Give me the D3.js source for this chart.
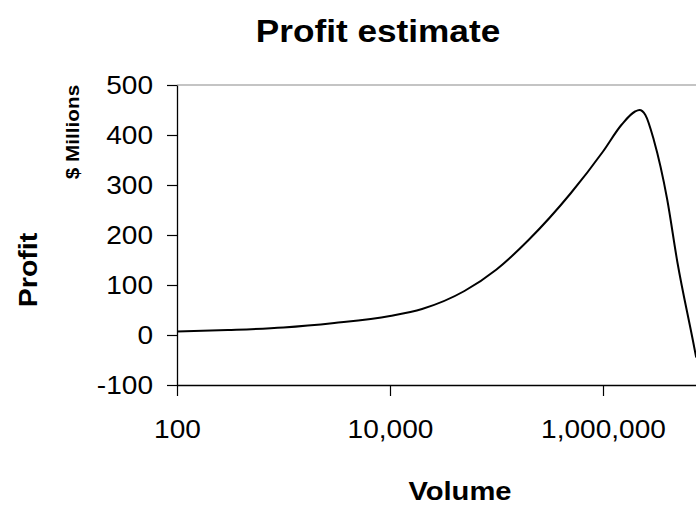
<!DOCTYPE html>
<html>
<head>
<meta charset="utf-8">
<script src="https://cdn.jsdelivr.net/npm/d3@7"></script>
<style>
  body { margin: 0; background: #fff; }
  svg { display: block; font-family: "Liberation Sans", Arial, sans-serif; }
</style>
</head>
<body>
<svg id="chart"></svg>
<script>
var width = 696;
var height = 505;

// data
var volumes = [100, 300, 1000, 3000, 10000, 20000, 50000, 100000, 200000, 500000,
               1000000, 1500000, 2000000, 2200000, 2500000, 3000000, 4000000, 5000000, 7000000, 7500000];
var profits = [7, 10, 15, 24, 38, 52, 88, 131, 190, 284,
               367, 421, 447, 450, 440, 390, 272, 145, -12, -45];
var xTicks = [100, 10000, 1000000];
var yTicks = [-100, 0, 100, 200, 300, 400, 500];

var plotLeft = 177, plotTop = 85, plotBottom = 385;
var decade = 106.5;

var svg = d3.select('#chart')
  .attr('width', width)
  .attr('height', height);

var xScale = d3.scaleLog()
  .domain([100, 1e8])
  .range([plotLeft, plotLeft + 6 * decade]);

var yScale = d3.scaleLinear()
  .domain([-100, 500])
  .range([plotBottom, plotTop]);

// stretch text a bit wider, like the original font
function stretch(sel, k) {
  sel.each(function() {
    var len = this.getComputedTextLength();
    d3.select(this).attr('textLength', len * k).attr('lengthAdjust', 'spacingAndGlyphs');
  });
}

// top border of the plot area
svg.append('line')
  .attr('x1', plotLeft).attr('x2', width)
  .attr('y1', plotTop).attr('y2', plotTop)
  .attr('stroke', '#8a8a8a')
  .attr('stroke-width', 1.2);

// y axis
var yAxis = svg.append('g')
  .attr('transform', `translate(${plotLeft}, 0)`)
  .call(d3.axisLeft(yScale)
    .tickValues(yTicks)
    .tickSize(10)
    .tickSizeOuter(0)
    .tickPadding(14)
    .tickFormat(function(d) { return String(d); }));
yAxis.select('.domain').attr('stroke', '#000').attr('stroke-width', 1.3);
yAxis.selectAll('.tick line').attr('stroke', '#000').attr('stroke-width', 1.2);
yAxis.selectAll('.tick text')
  .attr('font-size', 25.5)
  .attr('font-family', '"Liberation Sans", Arial, sans-serif')
  .attr('fill', '#000')
  .call(stretch, 1.1);

// x axis
var xAxis = svg.append('g')
  .attr('transform', `translate(0, ${plotBottom})`)
  .call(d3.axisBottom(xScale)
    .tickValues(xTicks)
    .tickSize(11)
    .tickSizeOuter(0)
    .tickPadding(24)
    .tickFormat(d3.format(',')));
xAxis.select('.domain').attr('stroke', '#000').attr('stroke-width', 1.3);
xAxis.selectAll('.tick line').attr('stroke', '#000').attr('stroke-width', 1.2);
xAxis.selectAll('.tick text')
  .attr('font-size', 25.5)
  .attr('font-family', '"Liberation Sans", Arial, sans-serif')
  .attr('fill', '#000')
  .call(stretch, 1.1);

// profit curve
svg.append('path')
  .datum(volumes.map(function(v, i) { return [v, profits[i]]; }))
  .attr('fill', 'none')
  .attr('stroke', '#000')
  .attr('stroke-width', 2)
  .attr('d', d3.line()
    .curve(d3.curveMonotoneX)
    .x(function(d) { return xScale(d[0]); })
    .y(function(d) { return yScale(d[1]); }));

// title
svg.append('text')
  .attr('x', 378)
  .attr('y', 42)
  .attr('text-anchor', 'middle')
  .attr('font-size', 32)
  .attr('font-weight', 'bold')
  .text('Profit estimate')
  .call(stretch, 1.1);

// x axis label
svg.append('text')
  .attr('x', 460)
  .attr('y', 500)
  .attr('text-anchor', 'middle')
  .attr('font-size', 26.5)
  .attr('font-weight', 'bold')
  .text('Volume')
  .call(stretch, 1.1);

// y axis label
svg.append('text')
  .attr('transform', 'translate(37, 270) rotate(-90)')
  .attr('text-anchor', 'middle')
  .attr('font-size', 26)
  .attr('font-weight', 'bold')
  .text('Profit')
  .call(stretch, 1.1);

svg.append('text')
  .attr('transform', 'translate(79, 132) rotate(-90)')
  .attr('text-anchor', 'middle')
  .attr('font-size', 18)
  .attr('font-weight', 'bold')
  .text('$ Millions')
  .call(stretch, 1.15);
</script>
</body>
</html>
